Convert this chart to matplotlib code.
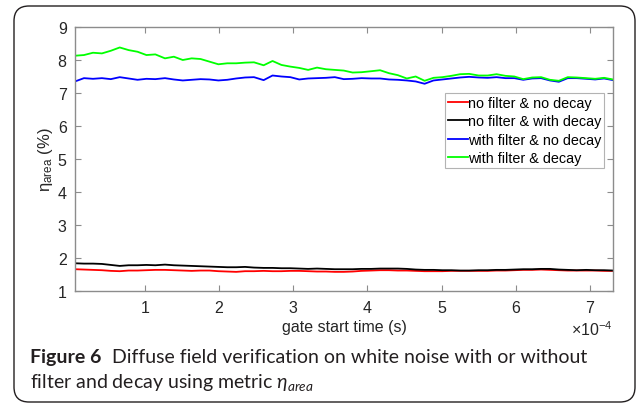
import numpy as np
import matplotlib
matplotlib.use("Agg")
import matplotlib.pyplot as plt
from matplotlib.patches import FancyBboxPatch


# gate start times (units of 1e-4 s)
gate_start = [
	0.057, 0.178, 0.299, 0.42, 0.54, 0.66, 0.78, 0.90, 1.02, 1.14,
	1.27, 1.39, 1.51, 1.63, 1.75, 1.87, 1.99, 2.11, 2.23, 2.35,
	2.47, 2.60, 2.72, 2.84, 2.96, 3.08, 3.20, 3.32, 3.44, 3.56,
	3.68, 3.80, 3.92, 4.05, 4.17, 4.29, 4.41, 4.53, 4.65, 4.77,
	4.89, 5.01, 5.13, 5.25, 5.37, 5.50, 5.62, 5.74, 5.86, 5.98,
	6.10, 6.22, 6.34, 6.46, 6.58, 6.70, 6.82, 6.95, 7.07, 7.19,
	7.31 ]

# eta_area (%) for each case
no_filter_no_decay = [
	1.66, 1.65, 1.64, 1.63, 1.61, 1.60, 1.62, 1.62, 1.63, 1.64,
	1.64, 1.63, 1.62, 1.61, 1.62, 1.62, 1.60, 1.59, 1.58, 1.60,
	1.60, 1.61, 1.60, 1.60, 1.61, 1.61, 1.60, 1.59, 1.59, 1.58,
	1.58, 1.59, 1.61, 1.62, 1.63, 1.63, 1.62, 1.62, 1.61, 1.60,
	1.60, 1.60, 1.61, 1.61, 1.61, 1.61, 1.61, 1.62, 1.62, 1.63,
	1.64, 1.64, 1.65, 1.64, 1.63, 1.62, 1.62, 1.62, 1.62, 1.61,
	1.61 ]

no_filter_with_decay = [
	1.84, 1.83, 1.83, 1.82, 1.79, 1.76, 1.78, 1.78, 1.79, 1.78,
	1.80, 1.78, 1.77, 1.76, 1.75, 1.74, 1.73, 1.72, 1.72, 1.73,
	1.71, 1.70, 1.70, 1.69, 1.69, 1.68, 1.67, 1.68, 1.67, 1.66,
	1.66, 1.66, 1.67, 1.67, 1.68, 1.68, 1.68, 1.67, 1.65, 1.64,
	1.64, 1.63, 1.63, 1.62, 1.62, 1.63, 1.63, 1.64, 1.64, 1.65,
	1.66, 1.66, 1.67, 1.67, 1.65, 1.64, 1.63, 1.64, 1.63, 1.63,
	1.62 ]

with_filter_no_decay = [
	7.35, 7.45, 7.43, 7.45, 7.42, 7.48, 7.44, 7.40, 7.43, 7.42,
	7.45, 7.41, 7.38, 7.40, 7.42, 7.41, 7.38, 7.40, 7.44, 7.47,
	7.48, 7.39, 7.53, 7.50, 7.48, 7.41, 7.44, 7.45, 7.46, 7.48,
	7.42, 7.43, 7.45, 7.44, 7.44, 7.41, 7.40, 7.38, 7.35, 7.28,
	7.38, 7.41, 7.44, 7.47, 7.49, 7.47, 7.46, 7.48, 7.45, 7.45,
	7.40, 7.44, 7.45, 7.38, 7.34, 7.45, 7.45, 7.43, 7.41, 7.44,
	7.39 ]

with_filter_decay = [
	8.13, 8.15, 8.22, 8.20, 8.28, 8.38, 8.30, 8.25, 8.15, 8.17,
	8.05, 8.10, 8.00, 8.05, 8.03, 7.95, 7.87, 7.90, 7.90, 7.92,
	7.93, 7.84, 7.97, 7.85, 7.80, 7.76, 7.70, 7.77, 7.72, 7.70,
	7.68, 7.62, 7.63, 7.66, 7.69, 7.60, 7.54, 7.44, 7.50, 7.37,
	7.46, 7.48, 7.52, 7.57, 7.58, 7.53, 7.53, 7.57, 7.52, 7.50,
	7.42, 7.47, 7.48, 7.40, 7.37, 7.48, 7.47, 7.45, 7.43, 7.46,
	7.41 ]

labels = [ "no filter & no decay", "no filter & with decay",
	"with filter & no decay", "with filter & decay" ]
colors = [ "#ff0000", "#000000", "#0000ff", "#00ff00" ]


plt.rcParams["font.family"] = [ "Liberation Sans", "DejaVu Sans" ]
plt.rcParams["mathtext.fontset"] = "custom"
plt.rcParams["mathtext.rm"] = "Liberation Sans"
plt.rcParams["mathtext.it"] = "Lato:italic"

fig = plt.figure(figsize = (6.37, 4.06), dpi = 100)
ax = fig.add_axes([ 75/637, 114/406, 538/637, 264/406 ])

t = np.array(gate_start) * 1e-4
series = [ no_filter_no_decay, no_filter_with_decay, with_filter_no_decay, with_filter_decay ]
for vals, lab, col in zip(series, labels, colors):
	ax.plot(t, vals, color = col, lw = 1.3, label = lab)

ax.set_xlim(t[0], t[-1])
ax.set_ylim(1, 9)
ax.set_xticks(np.arange(1, 8) * 1e-4)
ax.set_yticks(np.arange(1, 10))
ax.ticklabel_format(axis = "x", style = "sci", scilimits = (-4, -4), useMathText = True)

axis_col = "#8c8c8c"
text_col = "#262626"
for sp in ax.spines.values():
	sp.set_color(axis_col)
	sp.set_linewidth(1.0)
ax.tick_params(direction = "in", top = True, right = True, length = 4,
	color = axis_col, labelcolor = text_col, labelsize = 11.5, pad = 6)
offs = ax.xaxis.get_offset_text()
offs.set_fontsize(11.5)
offs.set_color(text_col)

ax.set_xlabel("gate start time (s)", fontsize = 11.5, color = text_col, labelpad = 3)
ax.set_ylabel("η$_\\mathregular{area}$ (%)", fontsize = 12, color = text_col, labelpad = 2)

leg = ax.legend(loc = "upper right", bbox_to_anchor = (529/538, 198/264),
	borderaxespad = 0, fontsize = 10.4, frameon = True, fancybox = False,
	handlelength = 1.4, handletextpad = 0.0, labelspacing = 0.3, borderpad = 0.2)
leg.get_frame().set_edgecolor("#a0a0a0")
leg.get_frame().set_linewidth(0.8)

# caption
cap_col = "#231f20"
cap_font = "Lato"
cap_size = 14
t1 = fig.text(30/637, 43/406, "Figure 6", fontsize = cap_size, fontweight = "bold",
	family = cap_font, color = cap_col, va = "baseline")
fig.canvas.draw()
bb = t1.get_window_extent()
fig.text((bb.x1 + 11)/637, 43/406, "Diffuse field verification on white noise with or without",
	fontsize = cap_size, family = cap_font, color = cap_col, va = "baseline")
fig.text(30/637, 18/406, "filter and decay using metric $\\eta_{area}$",
	fontsize = cap_size, family = cap_font, color = cap_col, va = "baseline")

# rounded frame
frame = FancyBboxPatch((0.14, 0.03), 6.21, 3.96,
	boxstyle = "round,pad=0,rounding_size=0.15",
	transform = fig.dpi_scale_trans, fill = False, ec = cap_col, lw = 1.0)
fig.add_artist(frame)

fig.savefig("out.png", dpi = 100)
